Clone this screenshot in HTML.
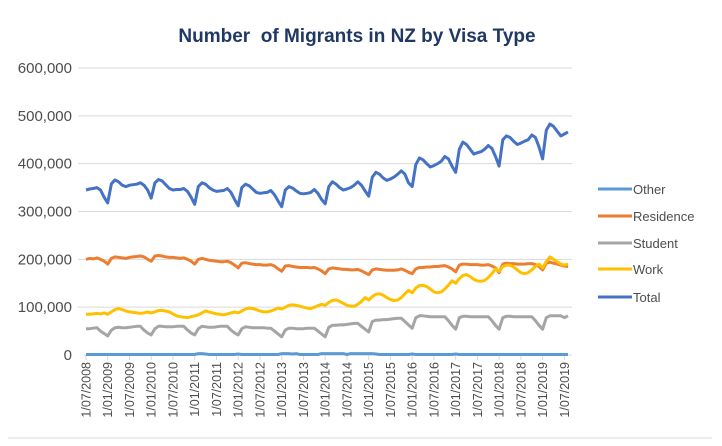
<!DOCTYPE html>
<html><head><meta charset="utf-8"><style>
html,body{margin:0;padding:0;background:#fff;}
svg{display:block;font-family:"Liberation Sans",sans-serif;}
</style></head><body>
<svg id="chart" width="722" height="446" viewBox="0 0 722 446">
<rect x="0" y="0" width="722" height="446" fill="#fff"/>
<line x1="8" y1="438" x2="712" y2="438" stroke="#d9d9d9"/>
<text x="357" y="42" text-anchor="middle" font-size="19" font-weight="bold" fill="#203864" style="white-space:pre">Number  of Migrants in NZ by Visa Type</text>
<g id="grid"></g><g id="yaxis"></g><g id="xaxis"></g><g id="series"></g><g id="legend"></g>
</svg>
<script>
const total = [345,347,348,350,345,330,318,358,366,362,355,352,
355,356,357,360,355,345,328,360,367,364,356,348,
345,346,346,348,342,330,315,352,360,357,350,345,
342,343,344,348,340,325,312,350,357,354,347,340,
338,339,340,344,335,322,310,345,352,349,343,338,
337,338,340,346,338,325,316,352,362,357,350,345,
347,350,355,362,355,343,332,372,382,378,370,365,
368,372,378,385,378,360,352,398,412,408,400,393,
396,400,405,415,410,395,382,430,445,440,430,420,
423,425,430,438,432,415,395,450,458,455,447,440,
443,447,450,460,455,435,410,470,483,478,468,458,
462,466];
const residence = [200,202,201,203,200,196,190,202,205,204,203,202,
204,205,206,207,205,200,196,207,208,207,205,204,
204,203,202,203,200,196,190,200,202,200,198,197,
196,195,195,196,193,188,182,192,193,191,190,189,
189,188,188,189,186,180,175,186,187,185,184,183,
183,183,182,183,180,176,170,180,182,181,180,179,
179,178,178,179,176,172,168,178,180,179,178,177,
177,177,178,180,177,173,170,180,183,183,184,184,
185,185,186,187,184,180,174,188,190,190,189,189,
189,188,188,189,186,182,172,190,192,191,191,190,
190,190,191,191,189,185,178,192,194,192,190,188,
186,185];
const work = [85,85,86,87,86,88,85,90,95,97,95,92,
90,89,88,87,88,90,88,90,93,93,92,90,
86,82,80,79,78,80,82,84,88,92,90,88,
86,85,84,86,88,90,88,92,96,98,97,95,
92,90,90,92,95,98,96,100,104,105,104,102,
100,98,97,100,103,106,104,110,114,115,112,108,
104,102,102,106,112,120,115,122,127,128,125,120,
116,114,115,120,128,135,130,140,145,146,143,138,
132,130,132,138,146,155,150,160,166,168,164,158,
155,154,156,162,170,180,175,185,188,188,184,178,
172,170,172,178,185,190,182,195,205,200,195,190,
188,190];
const student = [55,55,56,57,50,45,40,52,57,58,57,57,
58,59,60,60,52,46,42,55,60,60,59,59,
59,60,60,60,52,46,42,55,60,59,58,58,
59,60,60,60,52,46,42,55,59,58,57,57,
57,57,56,56,50,44,38,52,56,56,55,55,
55,56,56,56,50,44,38,58,62,62,63,63,
64,65,66,66,60,54,48,70,73,73,74,74,
75,76,77,77,70,63,56,78,82,82,81,80,
80,80,80,80,72,62,54,78,81,81,80,80,
80,80,80,80,72,62,54,78,81,81,80,80,
80,80,80,80,72,62,54,78,82,82,82,82,
78,82];
const other = [1,1,1,1,1,1,1,1,1,1,1,1,
1,1,1,1,1,1,1,1,1,1,1,1,
1,1,1,1,1,1,1,3,3,2,1,1,
1,1,1,1,1,1,2,1,1,1,1,1,
1,1,1,1,1,1,3,3,3,2,3,1,
1,1,1,1,1,3,3,3,3,3,3,3,
1,3,3,3,3,3,3,3,2,1,1,1,
1,1,1,1,1,1,2,1,1,1,1,1,
1,1,1,1,1,1,2,1,1,1,1,1,
1,1,1,1,1,1,1,1,1,1,1,1,
1,1,1,1,1,1,1,1,1,1,1,1,
1,1];
const yTicks = [0,100,200,300,400,500,600];
const yTickLabels = ["0","100,000","200,000","300,000","400,000","500,000","600,000"];
const xTickLabels = ["1/07/2008","1/01/2009","1/07/2009","1/01/2010","1/07/2010","1/01/2011","1/07/2011","1/01/2012","1/07/2012","1/01/2013","1/07/2013","1/01/2014","1/07/2014","1/01/2015","1/07/2015","1/01/2016","1/07/2016","1/01/2017","1/07/2017","1/01/2018","1/07/2018","1/01/2019","1/07/2019"];
const seriesNames = ["Other","Residence","Student","Work","Total"];

const NS="http://www.w3.org/2000/svg";
const X0=86, X1=568, Y0=355, Y600=68;
const nPts = total.length;
function xs(i){return X0+(X1-X0)*i/(nPts-1);}
function ys(v){return Y0-(Y0-Y600)*v/600;}
function mk(tag,attrs,parent){const e=document.createElementNS(NS,tag);for(const k in attrs)e.setAttribute(k,attrs[k]);parent.appendChild(e);return e;}
const grid=document.getElementById('grid'), yax=document.getElementById('yaxis'), xax=document.getElementById('xaxis'), ser=document.getElementById('series'), leg=document.getElementById('legend');
yTicks.forEach((t,i)=>{
  if(t>0){const g=mk('line',{x1:X0-8,x2:X1+4,y1:ys(t),y2:ys(t),stroke:'#d9d9d9','stroke-width':1},grid);
  
  }
  const tx=mk('text',{x:72,y:ys(t)+5,'text-anchor':'end','font-size':15,fill:'#4d4d4d'},yax);
  tx.textContent=yTickLabels[i];
  
  
});
const ax=mk('line',{x1:X0-2,x2:X1+4,y1:Y0,y2:Y0,stroke:'#d9d9d9'},xax);


xTickLabels.forEach((l,i)=>{
  const x=xs(i*6);
  const tk=mk('line',{x1:x,x2:x,y1:Y0,y2:Y0+5,stroke:'#d9d9d9'},xax);
  
  
  const tx=mk('text',{x:0,y:0,'text-anchor':'end','font-size':12.5,fill:'#4d4d4d',transform:`translate(${x+4.5},${Y0+7}) rotate(-90)`},xax);
  tx.textContent=l;
  
  
});
const colors=["#5B9BD5","#ED7D31","#A5A5A5","#FFC000","#4472C4"];
const data=[other,residence,student,work,total];
data.forEach((arr,si)=>{
  const d=arr.map((v,i)=>(i?'L':'M')+xs(i).toFixed(1)+' '+ys(v).toFixed(1)).join(' ');
  const p=mk('path',{d:d,fill:'none',stroke:colors[si],'stroke-width':3,'stroke-linejoin':'round'},ser);
  
  
});
const legY=[189,216,243,269,297];
seriesNames.forEach((n,i)=>{
  const g=mk('g',{},leg);
  
  
  mk('line',{x1:598,x2:632,y1:legY[i],y2:legY[i],stroke:colors[i],'stroke-width':3},g);
  const t=mk('text',{x:633,y:legY[i]+5,'font-size':13,fill:'#4d4d4d'},g);
  t.textContent=n;
});
</script>
</body></html>
